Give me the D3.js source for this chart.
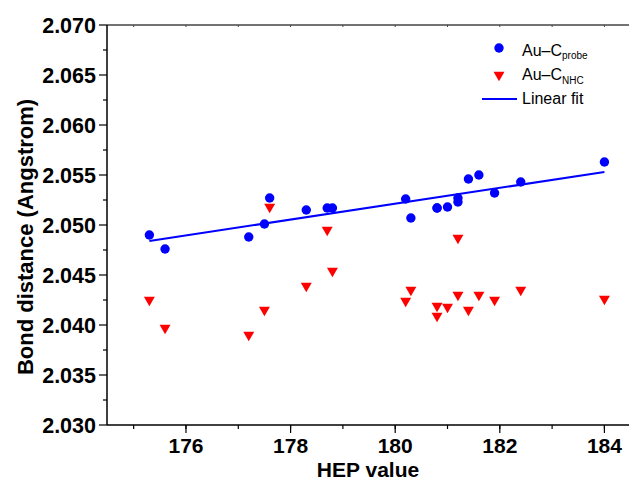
<!DOCTYPE html>
<html>
<head>
<meta charset="utf-8">
<script src="https://cdn.jsdelivr.net/npm/d3@7"></script>
<style>
  body { margin: 0; background: #fff; }
  svg { display: block; font-family: "Liberation Sans", Arial, sans-serif; }
</style>
</head>
<body>
<div id="chart"></div>
<script>
// HEP values (x) shared by both series
var hep = [175.3, 175.6, 177.2, 177.5, 177.6, 178.3, 178.7, 178.8, 180.2, 180.3,
           180.8, 180.8, 181.0, 181.2, 181.2, 181.4, 181.6, 181.9, 182.4, 184.0];
// Au-C probe bond distances
var auCprobe = [2.0490, 2.0476, 2.0488, 2.0501, 2.0527, 2.0515, 2.0517, 2.0517, 2.0526, 2.0507,
                2.0517, 2.0517, 2.0518, 2.0527, 2.0523, 2.0546, 2.0550, 2.0532, 2.0543, 2.0563];
// Au-C NHC bond distances
var auCnhc = [2.0425, 2.0397, 2.0390, 2.0415, 2.0518, 2.0439, 2.0495, 2.0454, 2.0424, 2.0435,
              2.0419, 2.0409, 2.0418, 2.0487, 2.0430, 2.0415, 2.0430, 2.0425, 2.0435, 2.0426];
// linear fit end points
var fitX = [175.3, 184.0];
var fitY = [2.0484, 2.0553];

var yTicks = [2.030, 2.035, 2.040, 2.045, 2.050, 2.055, 2.060, 2.065, 2.070];
var xTicks = [176, 178, 180, 182, 184];

var W = 629, H = 480;
var margin = {top: 25, left: 107, bottom: 55};

var svg = d3.select("#chart").append("svg")
    .attr("width", W)
    .attr("height", H);

// x axis ends at the right edge of the picture
var x = d3.scaleLinear()
    .domain([174.49, 184.47])
    .range([margin.left, W]);

var y = d3.scaleLinear()
    .domain([2.030, 2.070])
    .range([H - margin.bottom, margin.top]);

var minorX = d3.range(175, 185, 1);
var minorY = d3.range(2.0325, 2.070, 0.005);

// bottom axis
var gx = svg.append("g")
    .attr("transform", "translate(0," + y(2.030) + ")");
gx.append("line").attr("x1", margin.left).attr("x2", W).attr("stroke", "#000").attr("stroke-width", 1.5);
gx.selectAll("line.minor").data(minorX).enter().append("line")
    .attr("x1", function(d){return x(d)}).attr("x2", function(d){return x(d)})
    .attr("y1", 0).attr("y2", 4)
    .attr("stroke", "#000").attr("stroke-width", 1.2);
gx.selectAll("line.major").data(xTicks).enter().append("line")
    .attr("x1", function(d){return x(d)}).attr("x2", function(d){return x(d)})
    .attr("y1", 0).attr("y2", 8)
    .attr("stroke", "#000").attr("stroke-width", 1.2);
gx.selectAll("text").data(xTicks).enter().append("text")
    .attr("x", function(d){return x(d)})
    .attr("y", 28)
    .attr("text-anchor", "middle")
    .attr("font-size", 21).attr("font-weight", "bold")
    .text(function(d){return d});

// top border
var gt = svg.append("g");
gt.append("line").attr("x1", margin.left).attr("x2", W)
    .attr("y1", y(2.070)).attr("y2", y(2.070))
    .attr("stroke", "#444").attr("stroke-width", 1.5);
gt.selectAll("line.t").data(minorX).enter().append("line")
    .attr("x1", function(d){return x(d)}).attr("x2", function(d){return x(d)})
    .attr("y1", y(2.070)).attr("y2", y(2.070) + 2)
    .attr("stroke", "#444");

// left axis
var gy = svg.append("g")
    .attr("transform", "translate(" + margin.left + ",0)");
gy.append("line").attr("y1", y(2.030)).attr("y2", y(2.070)).attr("stroke", "#000").attr("stroke-width", 1.5);
gy.selectAll("line.minor").data(minorY).enter().append("line")
    .attr("y1", function(d){return y(d)}).attr("y2", function(d){return y(d)})
    .attr("x1", 0).attr("x2", -4)
    .attr("stroke", "#000").attr("stroke-width", 1.2);
gy.selectAll("line.major").data(yTicks).enter().append("line")
    .attr("y1", function(d){return y(d)}).attr("y2", function(d){return y(d)})
    .attr("x1", 0).attr("x2", -8)
    .attr("stroke", "#000").attr("stroke-width", 1.2);
gy.selectAll("text").data(yTicks).enter().append("text")
    .attr("x", -11)
    .attr("y", function(d){return y(d)})
    .attr("dy", "0.36em")
    .attr("text-anchor", "end")
    .attr("font-size", 21.5).attr("font-weight", "bold")
    .text(function(d){return d3.format(".3f")(d)});

// axis titles
svg.append("text")
    .attr("x", (margin.left + W) / 2).attr("y", 477)
    .attr("text-anchor", "middle")
    .attr("font-size", 21).attr("font-weight", "bold")
    .text("HEP value");
svg.append("text")
    .attr("transform", "translate(33,237) rotate(-90)")
    .attr("text-anchor", "middle")
    .attr("font-size", 22).attr("font-weight", "bold")
    .text("Bond distance (Angstrom)");

// linear fit
var line = d3.line().x(function(d){return x(d[0])}).y(function(d){return y(d[1])});
svg.append("path")
    .datum(d3.zip(fitX, fitY))
    .attr("d", line)
    .attr("fill", "none")
    .attr("stroke", "#0000ff")
    .attr("stroke-width", 2);

// triangles (Au-C NHC)
var tri = d3.symbol().type(d3.symbolTriangle).size(52);
svg.selectAll("path.nhc").data(d3.zip(hep, auCnhc)).enter().append("path")
    .attr("class", "nhc")
    .attr("d", tri)
    .attr("transform", function(d){return "translate(" + x(d[0]) + "," + y(d[1]) + ") rotate(180)"})
    .attr("fill", "#ff0000");

// circles (Au-C probe)
svg.selectAll("circle.probe").data(d3.zip(hep, auCprobe)).enter().append("circle")
    .attr("class", "probe")
    .attr("cx", function(d){return x(d[0])})
    .attr("cy", function(d){return y(d[1])})
    .attr("r", 4.7)
    .attr("fill", "#0000ff");

// legend
var lg = svg.append("g");
lg.append("circle").attr("cx", 499).attr("cy", 48).attr("r", 4.7).attr("fill", "#0000ff");
lg.append("path").attr("d", tri).attr("transform", "translate(499,75) rotate(180)").attr("fill", "#ff0000");
lg.append("line").attr("x1", 482).attr("x2", 517).attr("y1", 99).attr("y2", 99)
    .attr("stroke", "#0000ff").attr("stroke-width", 2);

var t1 = lg.append("text").attr("x", 522).attr("y", 56).attr("font-size", 16);
t1.append("tspan").text("Au\u2013C");
t1.append("tspan").attr("font-size", 10).attr("dy", 3).text("probe");
var t2 = lg.append("text").attr("x", 522).attr("y", 80).attr("font-size", 16);
t2.append("tspan").text("Au\u2013C");
t2.append("tspan").attr("font-size", 10).attr("dy", 4).text("NHC");
lg.append("text").attr("x", 522).attr("y", 104).attr("font-size", 16).text("Linear fit");
</script>
</body>
</html>
